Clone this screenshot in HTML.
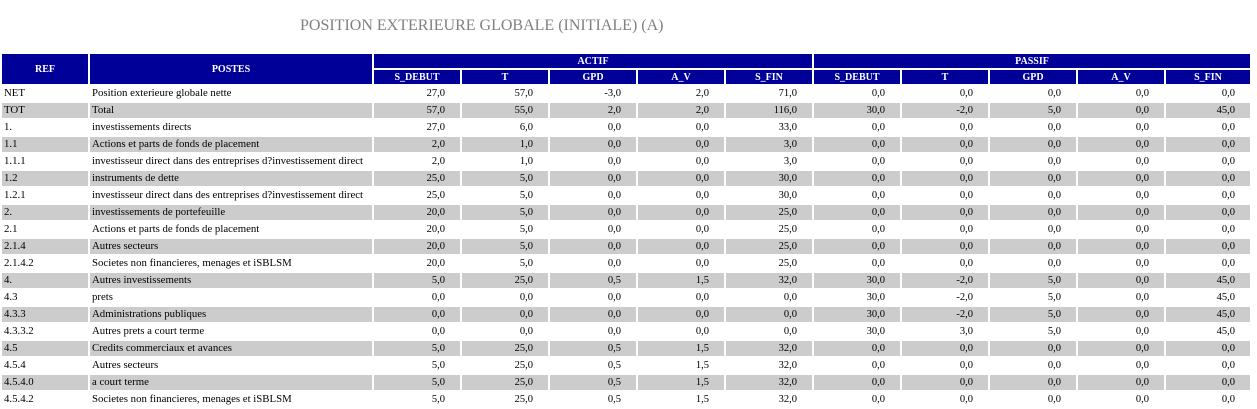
<!DOCTYPE html>
<html><head><meta charset="utf-8"><style>
body{margin:0;background:#fff;width:1257px;height:405px;overflow:hidden;font-family:"Liberation Serif",serif;}
.title{position:absolute;left:300px;top:17px;font-size:16px;color:#808080;white-space:nowrap;}
table{position:absolute;left:0;top:52px;border-collapse:separate;border-spacing:2px;font-size:10.8px;table-layout:fixed;}
th{background:#000099;color:#fff;font-weight:bold;font-size:10px;padding:0;text-align:center;}
tr.h1 th{height:14px;}
tr.h2 th{height:14px;}
td{height:15px;padding:0 2px;white-space:nowrap;overflow:hidden;line-height:15px;}
td.n{text-align:right;padding-right:15px;font-size:10.5px;}
tr.g td{background:#cccccc;}
</style></head><body>
<div class="title">POSITION EXTERIEURE GLOBALE (INITIALE) (A)</div>
<table>
<colgroup><col style="width:86px"><col style="width:282px">
<col style="width:86px"><col style="width:86px"><col style="width:86px"><col style="width:86px"><col style="width:86px">
<col style="width:86px"><col style="width:86px"><col style="width:86px"><col style="width:86px"><col style="width:84px"></colgroup>
<tr class="h1"><th rowspan="2">REF</th><th rowspan="2">POSTES</th><th colspan="5">ACTIF</th><th colspan="5">PASSIF</th></tr>
<tr class="h2"><th>S_DEBUT</th><th>T</th><th>GPD</th><th>A_V</th><th>S_FIN</th><th>S_DEBUT</th><th>T</th><th>GPD</th><th>A_V</th><th>S_FIN</th></tr>
<tr><td>NET</td><td>Position exterieure globale nette</td><td class="n">27,0</td><td class="n">57,0</td><td class="n">-3,0</td><td class="n">2,0</td><td class="n">71,0</td><td class="n">0,0</td><td class="n">0,0</td><td class="n">0,0</td><td class="n">0,0</td><td class="n">0,0</td></tr>
<tr class="g"><td>TOT</td><td>Total</td><td class="n">57,0</td><td class="n">55,0</td><td class="n">2,0</td><td class="n">2,0</td><td class="n">116,0</td><td class="n">30,0</td><td class="n">-2,0</td><td class="n">5,0</td><td class="n">0,0</td><td class="n">45,0</td></tr>
<tr><td>1.</td><td>investissements directs</td><td class="n">27,0</td><td class="n">6,0</td><td class="n">0,0</td><td class="n">0,0</td><td class="n">33,0</td><td class="n">0,0</td><td class="n">0,0</td><td class="n">0,0</td><td class="n">0,0</td><td class="n">0,0</td></tr>
<tr class="g"><td>1.1</td><td>Actions et parts de fonds de placement</td><td class="n">2,0</td><td class="n">1,0</td><td class="n">0,0</td><td class="n">0,0</td><td class="n">3,0</td><td class="n">0,0</td><td class="n">0,0</td><td class="n">0,0</td><td class="n">0,0</td><td class="n">0,0</td></tr>
<tr><td>1.1.1</td><td>investisseur direct dans des entreprises d?investissement direct</td><td class="n">2,0</td><td class="n">1,0</td><td class="n">0,0</td><td class="n">0,0</td><td class="n">3,0</td><td class="n">0,0</td><td class="n">0,0</td><td class="n">0,0</td><td class="n">0,0</td><td class="n">0,0</td></tr>
<tr class="g"><td>1.2</td><td>instruments de dette</td><td class="n">25,0</td><td class="n">5,0</td><td class="n">0,0</td><td class="n">0,0</td><td class="n">30,0</td><td class="n">0,0</td><td class="n">0,0</td><td class="n">0,0</td><td class="n">0,0</td><td class="n">0,0</td></tr>
<tr><td>1.2.1</td><td>investisseur direct dans des entreprises d?investissement direct</td><td class="n">25,0</td><td class="n">5,0</td><td class="n">0,0</td><td class="n">0,0</td><td class="n">30,0</td><td class="n">0,0</td><td class="n">0,0</td><td class="n">0,0</td><td class="n">0,0</td><td class="n">0,0</td></tr>
<tr class="g"><td>2.</td><td>investissements de portefeuille</td><td class="n">20,0</td><td class="n">5,0</td><td class="n">0,0</td><td class="n">0,0</td><td class="n">25,0</td><td class="n">0,0</td><td class="n">0,0</td><td class="n">0,0</td><td class="n">0,0</td><td class="n">0,0</td></tr>
<tr><td>2.1</td><td>Actions et parts de fonds de placement</td><td class="n">20,0</td><td class="n">5,0</td><td class="n">0,0</td><td class="n">0,0</td><td class="n">25,0</td><td class="n">0,0</td><td class="n">0,0</td><td class="n">0,0</td><td class="n">0,0</td><td class="n">0,0</td></tr>
<tr class="g"><td>2.1.4</td><td>Autres secteurs</td><td class="n">20,0</td><td class="n">5,0</td><td class="n">0,0</td><td class="n">0,0</td><td class="n">25,0</td><td class="n">0,0</td><td class="n">0,0</td><td class="n">0,0</td><td class="n">0,0</td><td class="n">0,0</td></tr>
<tr><td>2.1.4.2</td><td>Societes non financieres, menages et iSBLSM</td><td class="n">20,0</td><td class="n">5,0</td><td class="n">0,0</td><td class="n">0,0</td><td class="n">25,0</td><td class="n">0,0</td><td class="n">0,0</td><td class="n">0,0</td><td class="n">0,0</td><td class="n">0,0</td></tr>
<tr class="g"><td>4.</td><td>Autres investissements</td><td class="n">5,0</td><td class="n">25,0</td><td class="n">0,5</td><td class="n">1,5</td><td class="n">32,0</td><td class="n">30,0</td><td class="n">-2,0</td><td class="n">5,0</td><td class="n">0,0</td><td class="n">45,0</td></tr>
<tr><td>4.3</td><td>prets</td><td class="n">0,0</td><td class="n">0,0</td><td class="n">0,0</td><td class="n">0,0</td><td class="n">0,0</td><td class="n">30,0</td><td class="n">-2,0</td><td class="n">5,0</td><td class="n">0,0</td><td class="n">45,0</td></tr>
<tr class="g"><td>4.3.3</td><td>Administrations publiques</td><td class="n">0,0</td><td class="n">0,0</td><td class="n">0,0</td><td class="n">0,0</td><td class="n">0,0</td><td class="n">30,0</td><td class="n">-2,0</td><td class="n">5,0</td><td class="n">0,0</td><td class="n">45,0</td></tr>
<tr><td>4.3.3.2</td><td>Autres prets a court terme</td><td class="n">0,0</td><td class="n">0,0</td><td class="n">0,0</td><td class="n">0,0</td><td class="n">0,0</td><td class="n">30,0</td><td class="n">3,0</td><td class="n">5,0</td><td class="n">0,0</td><td class="n">45,0</td></tr>
<tr class="g"><td>4.5</td><td>Credits commerciaux et avances</td><td class="n">5,0</td><td class="n">25,0</td><td class="n">0,5</td><td class="n">1,5</td><td class="n">32,0</td><td class="n">0,0</td><td class="n">0,0</td><td class="n">0,0</td><td class="n">0,0</td><td class="n">0,0</td></tr>
<tr><td>4.5.4</td><td>Autres secteurs</td><td class="n">5,0</td><td class="n">25,0</td><td class="n">0,5</td><td class="n">1,5</td><td class="n">32,0</td><td class="n">0,0</td><td class="n">0,0</td><td class="n">0,0</td><td class="n">0,0</td><td class="n">0,0</td></tr>
<tr class="g"><td>4.5.4.0</td><td>a court terme</td><td class="n">5,0</td><td class="n">25,0</td><td class="n">0,5</td><td class="n">1,5</td><td class="n">32,0</td><td class="n">0,0</td><td class="n">0,0</td><td class="n">0,0</td><td class="n">0,0</td><td class="n">0,0</td></tr>
<tr><td>4.5.4.2</td><td>Societes non financieres, menages et iSBLSM</td><td class="n">5,0</td><td class="n">25,0</td><td class="n">0,5</td><td class="n">1,5</td><td class="n">32,0</td><td class="n">0,0</td><td class="n">0,0</td><td class="n">0,0</td><td class="n">0,0</td><td class="n">0,0</td></tr>
</table>
</body></html>
